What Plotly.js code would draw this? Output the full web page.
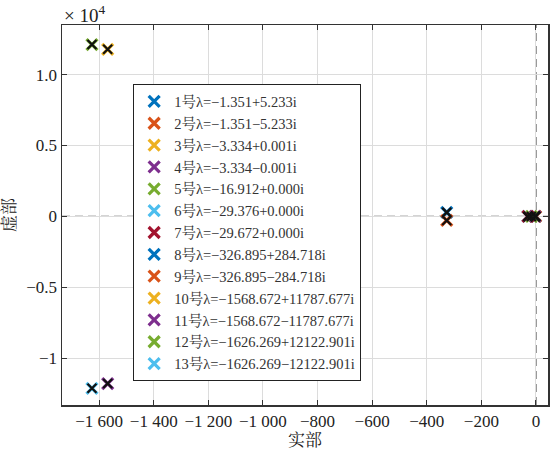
<!DOCTYPE html>
<html><head><meta charset="utf-8">
<script src="https://cdn.plot.ly/plotly-3.0.1.min.js"></script>
<style>html,body{margin:0;padding:0;background:#fff}</style>
</head><body><div id="chart" style="width:550px;height:461px"></div>
<script>
const ids = [1,2,3,4,5,6,7,8,9,10,11,12,13];
const reParts = [-1.351,-1.351,-3.334,-3.334,-16.912,-29.376,-29.672,-326.895,-326.895,-1568.672,-1568.672,-1626.269,-1626.269];
const imParts = [5.233,-5.233,0.001,-0.001,0.000,0.000,0.000,284.718,-284.718,11787.677,-11787.677,12122.901,-12122.901];
const colors = ['#0072BD','#D95319','#EDB120','#7E2F8E','#77AC30','#4DBEEE','#A2142F','#0072BD','#D95319','#EDB120','#7E2F8E','#77AC30','#4DBEEE'];
const xTickVals = [-1600,-1400,-1200,-1000,-800,-600,-400,-200,0];
const xTickText = ['−1 600','−1 400','−1 200','−1 000','−800','−600','−400','−200','0'];
const yTickVals = [-1,-0.5,0,0.5,1.0];
const yTickText = ['−1','−0.5','0','0.5','1.0'];
const yScale = 1e4;

function fmt(v){ return (v<0?'−':'') + Math.abs(v).toFixed(3); }
function label(i){
  const im = imParts[i];
  return ids[i] + '号λ=' + fmt(reParts[i]) + (im<0 || Object.is(im,-0) ? '−' : '+') + Math.abs(im).toFixed(3) + 'i';
}
const font = '"Liberation Serif", "Noto Serif CJK SC", "Noto Sans CJK SC", serif';
const traces = [];
ids.forEach((id,i)=>{
  traces.push({type:'scatter',mode:'markers',x:[reParts[i]],y:[imParts[i]/yScale],
    name: label(i), marker:{symbol:'x-thin-open',size:11,color:colors[i],line:{color:colors[i],width:3.2}},
    hoverinfo:'skip'});
});
ids.forEach((id,i)=>{
  traces.push({type:'scatter',mode:'markers',x:[reParts[i]],y:[imParts[i]/yScale],
    showlegend:false, marker:{symbol:'x-thin-open',size:9,color:'#111',line:{color:'#111',width:2.2}},
    hoverinfo:'skip'});
});
const layout = {
  width:550,height:461,
  margin:{l:62,r:2,t:25,b:56},
  paper_bgcolor:'#fff',plot_bgcolor:'#fff',
  font:{family:font,size:17,color:'#222'},
  showlegend:true,
  legend:{x:0.146,y:0.844,xanchor:'left',yanchor:'top',bordercolor:'#222',borderwidth:1.2,
    bgcolor:'#fff',font:{family:font,size:14.5,color:'#333'},tracegroupgap:0},
  xaxis:{range:[-1736,44],tickvals:xTickVals,ticktext:xTickText,ticks:'inside',ticklen:5,
    tickcolor:'#333',showline:true,linecolor:'#333',linewidth:1.5,mirror:'ticks',
    showgrid:true,gridcolor:'#dcdcdc',gridwidth:1,zeroline:false,
    title:{text:'实部',font:{family:font,size:17},standoff:4},tickfont:{family:font,size:17}},
  yaxis:{range:[-1.33,1.35],tickvals:yTickVals,ticktext:yTickText,ticks:'inside',ticklen:5,
    tickcolor:'#333',showline:true,linecolor:'#333',linewidth:1.5,mirror:'ticks',
    showgrid:true,gridcolor:'#dcdcdc',gridwidth:1,zeroline:false,
    title:{text:'虚部',font:{family:font,size:17},standoff:6},tickfont:{family:font,size:17}},
  shapes:[
    {type:'line',xref:'paper',yref:'y',x0:0,x1:1,y0:0,y1:0,line:{color:'#555',width:1.2,dash:'8px,5px'},layer:'below'},
    {type:'line',xref:'x',yref:'paper',x0:0,x1:0,y0:0,y1:1,line:{color:'#555',width:1.2,dash:'8px,5px'},layer:'below'}
  ],
  annotations:[{xref:'paper',yref:'paper',x:0.0,y:1.0,xanchor:'left',yanchor:'bottom',yshift:-3,showarrow:false,
    text:'× 10<sup>4</sup>',font:{family:font,size:19,color:'#222'}}]
};
Plotly.newPlot('chart',traces,layout,{displayModeBar:false,staticPlot:true});
</script></body></html>
